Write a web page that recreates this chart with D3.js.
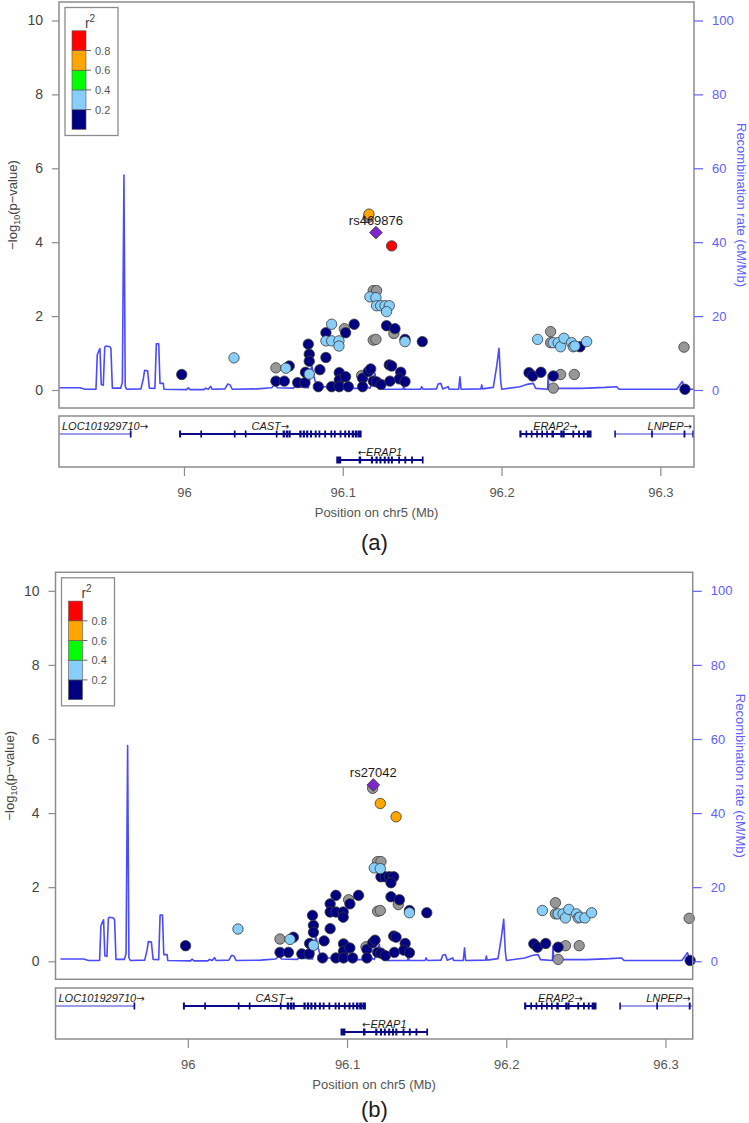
<!DOCTYPE html>
<html>
<head>
<meta charset="utf-8">
<script src="https://cdn.jsdelivr.net/npm/d3@7"></script>
<style>
body{margin:0;background:#fff}
svg{display:block}
text{font-family:"Liberation Sans",Arial,Helvetica,sans-serif}
</style>
</head>
<body>
<svg id="chart" width="749" height="1123"></svg>
<script>
// SNP positions (Mb on chr5) and -log10(p)
const snpPos = [
  95.9986, 96.0315, 96.0579, 96.0642, 96.0663, 96.0579, 96.0632, 96.0716, 96.0762, 96.0765,
  96.0789, 96.0783, 96.0789, 96.0789, 96.0846, 96.0856, 96.0894, 96.0894, 96.0894, 96.0930,
  96.0930, 96.0976, 96.0976, 96.1010, 96.1018, 96.1072, 96.0930, 96.0978, 96.0978, 96.0978,
  96.1018, 96.1035, 96.1119, 96.1125, 96.1125, 96.1161, 96.1176, 96.1192, 96.1213, 96.1241,
  96.1192, 96.1209, 96.1192, 96.1213, 96.1171, 96.1209, 96.1213, 96.1239, 96.1266, 96.1293,
  96.1276, 96.1276, 96.1329, 96.1322, 96.1392, 96.1392, 96.1501, 96.1293, 96.1308, 96.1365,
  96.1356, 96.1392, 96.1297,
  96.2227, 96.2309, 96.2309, 96.2326, 96.2357, 96.2372, 96.2393, 96.2441, 96.2452, 96.2462,
  96.2494, 96.2536, 96.2173, 96.2196, 96.2248, 96.2326, 96.2372, 96.2458, 96.2326, 96.3149,
  96.3155,
  96.1161, 96.1165, 96.1209, 96.1308
];
const snpLogP = [
  0.42, 0.87, 0.60, 0.59, 0.65, 0.24, 0.24, 0.20, 0.20, 0.48,
  0.43, 1.24, 0.97, 0.78, 0.09, 0.55, 0.88, 1.55, 1.33, 1.33,
  1.78, 1.33, 1.19, 1.66, 1.55, 1.78, 0.09, 0.47, 0.27, 0.09,
  0.36, 0.09, 0.39, 0.32, 0.09, 0.50, 0.57, 0.24, 0.22, 0.15,
  1.35, 1.37, 2.69, 2.69, 2.52, 2.50, 2.28, 2.28, 2.28, 2.28,
  2.12, 1.74, 1.66, 1.53, 1.37, 1.31, 1.31, 0.68, 0.65, 0.48,
  0.30, 0.23, 0.24,
  1.37, 1.58, 1.28, 1.28, 1.28, 1.17, 1.40, 1.28, 1.17, 1.19,
  1.17, 1.31, 0.47, 0.38, 0.48, 0.38, 0.42, 0.42, 0.05, 1.16,
  0.02,
  4.67, 4.76, 4.26, 3.90
];
// r2 bin per SNP: -1 = no LD info, 0 = <0.2, 1 = 0.2-0.4, 2 = 0.4-0.6, 3 = 0.6-0.8, 4 = >0.8, 5 = lead SNP
const ldA = [
  0, 1, -1, 1, 0, 0, 0, 0, 0, 0,
  1, 0, 0, 0, 0, 0, 0, 0, 1, 1,
  1, 1, 1, -1, 0, 0, 0, 0, 0, 0,
  0, 0, -1, 0, 0, 0, 0, 0, 0, 0,
  -1, -1, -1, -1, 1, 1, 1, 1, 1, 1,
  1, 0, 0, -1, 0, 1, 0, 0, 0, 0,
  0, 0, 0,
  1, -1, -1, 1, 1, 1, 1, 1, 1, 1,
  0, 1, 0, 0, 0, 0, -1, -1, -1, -1,
  0,
  -1, 3, 5, 4
];
const ldB = [
  0, 1, -1, 1, 0, 0, 0, 0, 0, 0,
  1, 0, 0, 0, 0, 0, 0, 0, 0, 0,
  0, 0, 0, -1, 0, 0, 0, 0, 0, 0,
  0, 0, -1, 0, 0, 0, 0, 0, 0, 0,
  -1, -1, -1, -1, 1, 1, 0, 0, 0, 0,
  0, 0, 0, -1, 0, 1, 0, 0, 0, 0,
  0, 0, 0,
  1, -1, -1, 1, 1, 1, 1, 1, 1, 1,
  1, 1, 0, 0, 0, 0, -1, -1, -1, -1,
  0,
  -1, 5, 3, 3
];
const leadNames = ['rs469876', 'rs27042'];
const captions = ['(a)', '(b)'];

// recombination rate (cM/Mb)
const recPos = [
  95.9200, 95.9345, 95.9377, 95.9446, 95.9454, 95.9463, 95.9471, 95.9479, 95.9492, 95.9501,
  95.9509, 95.9534, 95.9540, 95.9549, 95.9601, 95.9612, 95.9622, 95.9630, 95.9639, 95.9729,
  95.9744, 95.9752, 95.9771, 95.9782, 95.9817, 95.9826, 95.9841, 95.9849, 95.9870, 95.9874,
  96.0017, 96.0027, 96.0038, 96.0126, 96.0136, 96.0153, 96.0168, 96.0178, 96.0258, 96.0275,
  96.0290, 96.0304, 96.0458, 96.0552, 96.0573, 96.0588, 96.0688, 96.0698, 96.0783, 96.0804,
  96.0819, 96.0836, 96.0899, 96.0919, 96.1108, 96.1140, 96.1171, 96.1203, 96.1213, 96.1234,
  96.1255, 96.1380, 96.1385, 96.1390, 96.1490, 96.1497, 96.1505, 96.1590, 96.1601, 96.1617,
  96.1630, 96.1664, 96.1670, 96.1730, 96.1738, 96.1745, 96.1870, 96.1875, 96.1880, 96.1948,
  96.1969, 96.1984, 96.1994, 96.2001, 96.2116, 96.2168, 96.2200, 96.2215, 96.2290, 96.2294,
  96.2298, 96.2431, 96.2504, 96.2651, 96.2725, 96.2740, 96.2977, 96.3103, 96.3138, 96.3155,
  96.3230
];
const recRate = [
  0.6, 0.6, 0.2, 0.2, 9.5, 10.5, 11.2, 1.5, 1.3, 11.6,
  11.9, 11.7, 11.2, 0.5, 0.5, 2.0, 58.2, 1.0, 0.2, 0.3,
  3.0, 5.3, 5.2, 0.5, 0.4, 12.5, 12.5, 1.8, 1.8, 0.2,
  0.1, 0.6, 0.1, 0.1, 0.5, 0.2, 1.0, 0.2, 0.3, 1.6,
  1.4, 0.2, 0.3, 0.6, 1.5, 0.6, 0.5, 0.9, 0.6, 6.8,
  3.6, 0.9, 0.9, 0.45, 0.45, 1.1, 0.45, 4.5, 0.9, 2.3,
  0.2, 0.2, 1.6, 0.2, 0.2, 0.9, 0.2, 0.3, 1.6, 1.8,
  0.3, 0.9, 0.2, 0.2, 3.6, 0.2, 0.3, 1.4, 0.3, 0.7,
  6.3, 11.3, 2.7, 0.2, 0.9, 1.6, 1.8, 0.45, 0.2, 4.1,
  0.45, 0.45, 0.45, 0.7, 0.9, 0.2, 0.2, 0.2, 2.3, 0.2,
  0.2
];

// genes
const geneNames = ['LOC101929710', 'CAST', 'ERAP1', 'ERAP2', 'LNPEP'];
const geneStart = [95.9000, 95.9973, 96.0963, 96.2116, 96.2714];
const geneEnd = [95.9666, 96.1115, 96.1505, 96.2563, 96.3750];
const geneStrand = ['+', '+', '-', '+', '+'];
const geneRow = [0, 0, 1, 0, 0];
const geneExons = [
  [[95.9663, 95.9666]],
  [[95.9973, 95.9978], [96.0107, 96.0110], [96.0318, 96.0321], [96.0387, 96.0390], [96.0582, 96.0585],
   [96.0625, 96.0632], [96.0645, 96.0652], [96.0662, 96.0668], [96.0730, 96.0737], [96.0752, 96.0758],
   [96.0773, 96.0779], [96.0797, 96.0803], [96.0827, 96.0832], [96.0851, 96.0855], [96.0887, 96.0891],
   [96.0926, 96.0930], [96.0948, 96.0952], [96.0984, 96.0988], [96.1013, 96.1018], [96.1037, 96.1042],
   [96.1060, 96.1068], [96.1080, 96.1090], [96.1100, 96.1115]],
  [[96.0963, 96.0986], [96.1104, 96.1112], [96.1181, 96.1187], [96.1210, 96.1216], [96.1235, 96.1240],
   [96.1262, 96.1267], [96.1286, 96.1291], [96.1307, 96.1312], [96.1353, 96.1357], [96.1392, 96.1396],
   [96.1434, 96.1438], [96.1502, 96.1505]],
  [[96.2116, 96.2122], [96.2155, 96.2158], [96.2188, 96.2191], [96.2222, 96.2225], [96.2254, 96.2257],
   [96.2285, 96.2288], [96.2318, 96.2326], [96.2374, 96.2382], [96.2390, 96.2394], [96.2450, 96.2454],
   [96.2486, 96.2490], [96.2516, 96.2520], [96.2540, 96.2563]],
  [[96.2714, 96.2716], [96.2946, 96.2949], [96.3150, 96.3154], [96.3205, 96.3210]]
];

const xTicks = [96, 96.1, 96.2, 96.3];
const yTicks = [0, 2, 4, 6, 8, 10];
const recTicks = [0, 20, 40, 60, 80, 100];
const ldLabels = ['0.2', '0.4', '0.6', '0.8'];
const ldColors = ['#000080', '#87CEFA', '#00FF00', '#FFA500', '#FF0000'];

const panels = [
  {left: 59, right: 694, top: 2, bottom: 408, xDomain: [95.9213, 96.3212], geneTop: 416, geneBottom: 467, captionY: 550},
  {left: 55.5, right: 692.7, top: 572.3, bottom: 979.3, xDomain: [95.9169, 96.3171], geneTop: 988, geneBottom: 1039, captionY: 1117}
];

const svg = d3.select('#chart');
svg.append('rect').attr('width', 749).attr('height', 1123).attr('fill', '#fff');

const frameColor = '#8c8c8c';
const recColor = '#4a4aff';
const recText = '#6060ff';

function drawPanel(p, k) {
  const ld = k === 0 ? ldA : ldB;
  const g = svg.append('g');
  const x = d3.scaleLinear().domain(p.xDomain).range([p.left, p.right]);
  const y = d3.scaleLinear().domain([-0.487, 10.5]).range([p.bottom, p.top]);
  const yr = d3.scaleLinear().domain([-4.87, 105]).range([p.bottom, p.top]);

  const clipId = 'plotclip' + k;
  g.append('clipPath').attr('id', clipId).append('rect')
    .attr('x', p.left).attr('y', p.top).attr('width', p.right - p.left).attr('height', p.bottom - p.top);

  // recombination rate line
  g.append('path')
    .datum(d3.range(recPos.length))
    .attr('clip-path', `url(#${clipId})`)
    .attr('fill', 'none')
    .attr('stroke', recColor)
    .attr('stroke-width', 1.6)
    .attr('stroke-linejoin', 'round')
    .attr('d', d3.line().x(i => x(recPos[i])).y(i => yr(recRate[i])));

  // SNPs, low LD drawn first
  const order = d3.range(snpPos.length).sort((a, b) => ld[a] - ld[b]);
  const pts = order.filter(i => ld[i] < 5);
  const lead = order.filter(i => ld[i] === 5);
  g.selectAll('circle.snp')
    .data(pts)
    .enter()
    .append('circle')
    .attr('class', 'snp')
    .attr('cx', i => x(snpPos[i]))
    .attr('cy', i => y(snpLogP[i]))
    .attr('r', 5.2)
    .attr('fill', i => ld[i] < 0 ? '#979797' : ldColors[ld[i]])
    .attr('stroke', '#3a3a3a')
    .attr('stroke-width', 0.8);
  g.selectAll('path.lead')
    .data(lead)
    .enter()
    .append('path')
    .attr('class', 'lead')
    .attr('transform', i => `translate(${x(snpPos[i])},${y(snpLogP[i])}) rotate(45)`)
    .attr('d', d3.symbol().type(d3.symbolSquare).size(80))
    .attr('fill', '#7D26CD')
    .attr('stroke', '#3a3a3a')
    .attr('stroke-width', 0.8);
  g.selectAll('text.leadname')
    .data(lead)
    .enter()
    .append('text')
    .attr('x', i => x(snpPos[i]))
    .attr('y', i => y(snpLogP[i]) - 8)
    .attr('text-anchor', 'middle')
    .attr('font-size', 13)
    .attr('fill', '#1a1a1a')
    .text(leadNames[k]);

  // frame
  g.append('rect')
    .attr('x', p.left).attr('y', p.top).attr('width', p.right - p.left).attr('height', p.bottom - p.top)
    .attr('fill', 'none').attr('stroke', frameColor).attr('stroke-width', 1.5);

  // left axis
  const ay = g.append('g').attr('transform', `translate(${p.left},0)`)
    .call(d3.axisLeft(y).tickValues(yTicks).tickSize(7).tickPadding(9).tickFormat(d3.format('d')));
  ay.select('.domain').remove();
  ay.selectAll('line').attr('stroke', frameColor).attr('stroke-width', 1.2);
  ay.selectAll('text').attr('font-size', 14).attr('fill', '#444').attr('font-family', null);

  // right axis
  const ar = g.append('g').attr('transform', `translate(${p.right},0)`)
    .call(d3.axisRight(yr).tickValues(recTicks).tickSize(9).tickPadding(9));
  ar.select('.domain').remove();
  ar.selectAll('line').attr('stroke', recText).attr('stroke-width', 1.2);
  ar.selectAll('text').attr('font-size', 13).attr('fill', recText).attr('font-family', null);

  // axis titles
  const midY = (p.top + p.bottom) / 2;
  const yl = g.append('text')
    .attr('transform', `translate(${p.left - 42},${midY}) rotate(-90)`)
    .attr('text-anchor', 'middle')
    .attr('font-size', 13)
    .attr('fill', '#444');
  yl.append('tspan').text('\u2212log');
  yl.append('tspan').attr('font-size', 9).attr('dy', 3).text('10');
  yl.append('tspan').attr('dy', -3).text('(p\u2212value)');

  g.append('text')
    .attr('transform', `translate(${p.right + 43},${midY}) rotate(90)`)
    .attr('text-anchor', 'middle')
    .attr('font-size', 13)
    .attr('fill', recText)
    .text('Recombination rate (cM/Mb)');

  // legend
  const lx = p.left + 6, ly = p.top + 5.5;
  const leg = g.append('g');
  leg.append('rect').attr('x', lx).attr('y', ly).attr('width', 53).attr('height', 128)
    .attr('fill', '#fff').attr('stroke', frameColor).attr('stroke-width', 1.3);
  const lt = leg.append('text').attr('x', lx + 25).attr('y', ly + 20)
    .attr('text-anchor', 'middle').attr('font-size', 14).attr('fill', '#444');
  lt.append('tspan').text('r');
  lt.append('tspan').attr('font-size', 10).attr('dy', -6).text('2');
  const bh = 19.7, by = ly + 23.3;
  leg.selectAll('rect.bin')
    .data(d3.range(5))
    .enter()
    .append('rect')
    .attr('class', 'bin')
    .attr('x', lx + 7)
    .attr('y', i => by + (4 - i) * bh)
    .attr('width', 14)
    .attr('height', bh)
    .attr('fill', i => ldColors[i])
    .attr('stroke', '#555')
    .attr('stroke-width', 0.6);
  leg.selectAll('line.lt')
    .data(ldLabels)
    .enter()
    .append('line')
    .attr('x1', lx + 21).attr('x2', lx + 26)
    .attr('y1', (d, i) => by + (4 - i) * bh)
    .attr('y2', (d, i) => by + (4 - i) * bh)
    .attr('stroke', '#666');
  leg.selectAll('text.ll')
    .data(ldLabels)
    .enter()
    .append('text')
    .attr('x', lx + 30)
    .attr('y', (d, i) => by + (4 - i) * bh + 4)
    .attr('font-size', 11)
    .attr('fill', '#555')
    .text(d => d);

  // gene track
  const gclip = 'geneclip' + k;
  g.append('clipPath').attr('id', gclip).append('rect')
    .attr('x', p.left).attr('y', p.geneTop).attr('width', p.right - p.left).attr('height', p.geneBottom - p.geneTop);
  const gt = g.append('g').attr('clip-path', `url(#${gclip})`);
  geneNames.forEach((name, i) => {
    const ly2 = p.geneTop + 18 + geneRow[i] * 26;
    const thin = name === 'LOC101929710' || name === 'LNPEP';
    gt.append('line')
      .attr('x1', x(geneStart[i])).attr('x2', x(geneEnd[i]))
      .attr('y1', ly2).attr('y2', ly2)
      .attr('stroke', thin ? '#3b3bd0' : '#0a0a88')
      .attr('stroke-width', thin ? 1.1 : 2);
    gt.selectAll(null)
      .data(geneExons[i])
      .enter()
      .append('rect')
      .attr('x', e => x(e[0]) - 0.6)
      .attr('y', ly2 - 3.5)
      .attr('width', e => Math.max(1.4, x(e[1]) - x(e[0]) + 1.2))
      .attr('height', 7)
      .attr('fill', '#0a0a88');
  });
  geneNames.forEach((name, i) => {
    const t = g.append('text')
      .attr('y', p.geneTop + 14 + geneRow[i] * 26)
      .attr('font-size', 11)
      .attr('font-style', 'italic')
      .attr('fill', '#1a1a1a')
      .attr('text-anchor', 'middle');
    const arrow = geneStrand[i] === '+' ? '\u2192' : '\u2190';
    if (geneStrand[i] === '-') t.append('tspan').attr('font-family', 'DejaVu Sans').attr('font-style', 'normal').attr('font-size', 10).text(arrow);
    t.append('tspan').text(name);
    if (geneStrand[i] === '+') t.append('tspan').attr('font-family', 'DejaVu Sans').attr('font-style', 'normal').attr('font-size', 10).text(arrow);
    const w = t.node().getComputedTextLength();
    let cx = x((geneStart[i] + geneEnd[i]) / 2);
    cx = Math.max(p.left + 3 + w / 2, Math.min(p.right - 2 - w / 2, cx));
    t.attr('x', cx);
  });
  g.append('rect')
    .attr('x', p.left).attr('y', p.geneTop).attr('width', p.right - p.left).attr('height', p.geneBottom - p.geneTop)
    .attr('fill', 'none').attr('stroke', frameColor).attr('stroke-width', 1.5);

  // x axis
  const ax = g.append('g').attr('transform', `translate(0,${p.geneBottom})`)
    .call(d3.axisBottom(x).tickValues(xTicks).tickSize(9).tickPadding(12).tickFormat(d => String(+d.toFixed(1))));
  ax.select('.domain').remove();
  ax.selectAll('line').attr('stroke', frameColor).attr('stroke-width', 1.2);
  ax.selectAll('text').attr('font-size', 13).attr('fill', '#555').attr('font-family', null);

  g.append('text')
    .attr('x', (p.left + p.right) / 2)
    .attr('y', p.geneBottom + 50)
    .attr('text-anchor', 'middle')
    .attr('font-size', 13)
    .attr('fill', '#555')
    .text('Position on chr5 (Mb)');

  g.append('text')
    .attr('x', 374.5)
    .attr('y', p.captionY)
    .attr('text-anchor', 'middle')
    .attr('font-size', 22)
    .attr('fill', '#1a1a1a')
    .text(captions[k]);
}

panels.forEach(drawPanel);
</script>
</body>
</html>
